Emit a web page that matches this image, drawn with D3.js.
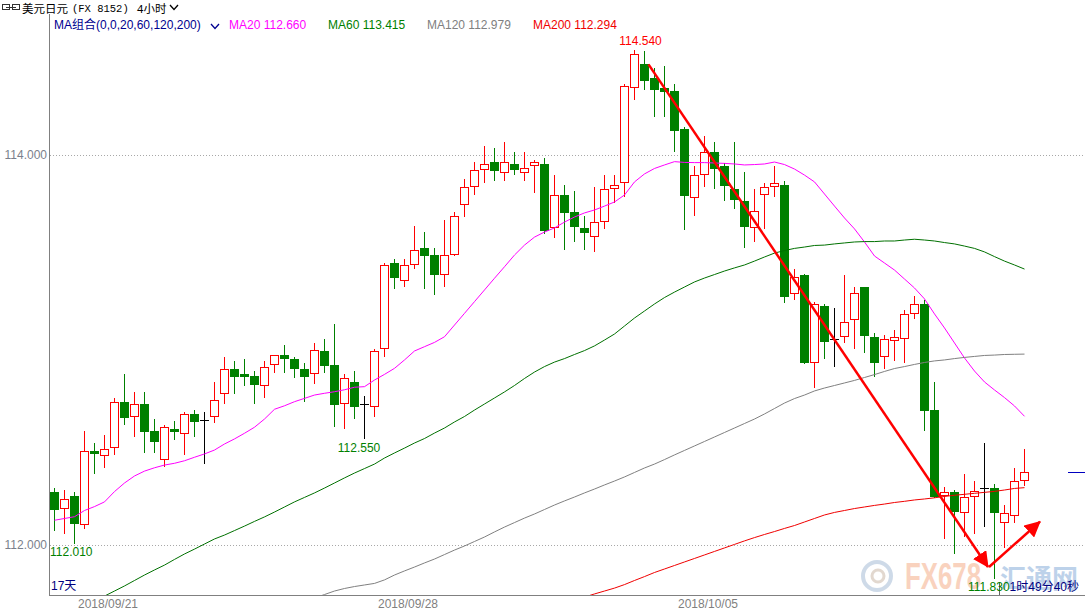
<!DOCTYPE html>
<html>
<head>
<meta charset="utf-8">
<script src="https://d3js.org/d3.v7.min.js"></script>
<style>
body { margin: 0; background: #fff; }
svg { display: block; font-family: "Liberation Sans", "Noto Sans CJK SC", sans-serif; }
</style>
</head>
<body>
<svg width="1085" height="610"></svg>
<script>
// 4h candles, USD/JPY
let opens = [112.272,112.183,112.251,112.101,112.482,112.455,112.499,112.733,112.655,112.723,
    112.585,112.434,112.595,112.571,112.672,112.643,112.655,112.773,112.901,112.877,
    112.867,112.814,112.923,112.974,112.954,112.901,112.875,112.995,112.923,112.722,
    112.836,112.722,112.709,113.004,113.446,113.352,113.434,113.522,113.487,113.383,
    113.486,113.742,113.834,113.922,113.963,113.906,113.952,113.906,113.942,113.952,
    113.624,113.793,113.706,113.624,113.581,113.655,113.824,113.856,114.342,114.465,
    114.395,114.344,114.328,114.133,113.781,113.896,114.014,113.944,113.826,113.764,
    113.624,113.793,113.834,113.845,113.286,113.385,112.932,113.226,113.055,113.065,
    113.152,113.322,113.067,112.963,113.045,113.055,113.183,113.236,112.692,112.251,
    112.270,112.163,112.245,112.291,112.291,112.111,112.150,112.330];
let highs = [112.292,112.282,112.272,112.585,112.523,112.564,112.752,112.877,112.785,112.785,
    112.646,112.614,112.636,112.682,112.692,112.682,112.836,112.964,112.944,112.954,
    112.892,112.944,112.973,113.026,112.964,112.932,113.034,113.056,113.133,112.877,
    112.892,112.764,113.005,113.446,113.467,113.467,113.636,113.605,113.522,113.667,
    113.706,113.875,113.963,114.046,114.036,114.067,114.015,114.015,113.973,113.983,
    113.896,113.846,113.817,113.687,113.834,113.897,113.897,114.364,114.540,114.535,
    114.445,114.455,114.364,114.144,113.942,114.097,114.067,113.957,114.067,113.911,
    113.826,113.856,113.942,113.865,113.414,113.390,113.248,113.236,113.217,113.385,
    113.325,113.322,113.087,113.077,113.103,113.205,113.277,113.256,112.837,112.299,
    112.282,112.364,112.330,112.522,112.313,112.205,112.393,112.492];
let lows = [112.077,112.060,112.010,112.089,112.371,112.402,112.468,112.622,112.561,112.478,
    112.478,112.405,112.542,112.468,112.561,112.422,112.631,112.730,112.781,112.821,
    112.730,112.761,112.889,112.889,112.863,112.740,112.832,112.889,112.612,112.602,
    112.653,112.550,112.662,112.971,113.316,113.330,113.422,113.320,113.289,113.330,
    113.486,113.689,113.802,113.863,113.873,113.873,113.904,113.873,113.812,113.602,
    113.581,113.519,113.561,113.519,113.509,113.624,113.761,113.791,114.286,114.340,
    114.202,114.202,114.022,113.622,113.692,113.843,113.832,113.769,113.730,113.530,
    113.561,113.624,113.791,113.245,113.263,112.932,112.812,112.957,112.919,113.043,
    113.012,112.991,112.868,112.909,112.949,112.940,113.163,112.590,112.245,112.037,
    111.961,112.048,112.060,112.099,111.830,111.991,112.119,112.308];
let closes = [112.179,112.234,112.109,112.481,112.468,112.492,112.733,112.653,112.722,112.581,
    112.530,112.604,112.581,112.670,112.632,112.643,112.742,112.901,112.863,112.863,
    112.822,112.913,112.973,112.952,112.901,112.863,112.998,112.919,112.719,112.855,
    112.709,112.722,112.993,113.434,113.371,113.434,113.511,113.484,113.383,113.486,
    113.686,113.834,113.922,113.952,113.916,113.963,113.922,113.932,113.963,113.612,
    113.793,113.704,113.632,113.602,113.655,113.824,113.845,114.354,114.516,114.381,
    114.335,114.325,114.125,113.790,113.896,114.014,113.930,113.843,113.769,113.632,
    113.711,113.834,113.855,113.273,113.373,112.932,113.234,113.043,113.055,113.142,
    113.291,113.073,112.932,113.055,113.065,113.183,113.234,112.689,112.245,112.270,
    112.171,112.245,112.278,112.291,112.163,112.163,112.330,112.373];

// moving averages (null where the line is not drawn)
let ma20 = [112.127,112.136,112.145,112.177,112.197,112.221,112.274,112.318,112.354,112.379,
    112.396,112.410,112.419,112.432,112.450,112.467,112.487,112.518,112.544,112.573,
    112.604,112.646,112.696,112.714,112.735,112.752,112.769,112.778,112.786,112.796,
    112.809,112.812,112.846,112.875,112.906,112.949,112.995,113.017,113.039,113.068,
    113.128,113.188,113.248,113.308,113.368,113.427,113.487,113.538,113.579,113.605,
    113.626,113.656,113.682,113.703,113.718,113.738,113.759,113.795,113.862,113.903,
    113.931,113.949,113.966,113.962,113.961,113.961,113.959,113.957,113.954,113.949,
    113.951,113.954,113.964,113.951,113.928,113.897,113.862,113.800,113.738,113.677,
    113.621,113.554,113.482,113.446,113.410,113.364,113.318,113.262,113.185,113.113,
    113.036,112.959,112.892,112.836,112.795,112.756,112.713,112.660];
let ma60 = [null,null,null,null,null,
    111.738,111.764,111.790,111.818,111.846,111.872,111.897,111.926,111.954,111.979,
    112.005,112.031,112.051,112.074,112.097,112.121,112.144,112.169,112.195,112.221,
    112.244,112.267,112.292,112.318,112.344,112.369,112.392,112.415,112.446,112.472,
    112.497,112.523,112.546,112.574,112.600,112.631,112.659,112.692,112.723,112.754,
    112.785,112.818,112.854,112.887,112.915,112.938,112.956,112.977,112.997,113.021,
    113.051,113.082,113.123,113.164,113.200,113.236,113.269,113.297,113.323,113.349,
    113.369,113.387,113.405,113.421,113.436,113.456,113.477,113.497,113.510,113.521,
    113.528,113.536,113.538,113.544,113.549,113.554,113.556,113.556,113.559,113.559,
    113.564,113.568,113.564,113.559,113.551,113.544,113.533,113.521,113.503,113.479,
    113.456,113.436,113.415];
let ma120 = [null,null,null,null,null,null,null,null,null,null,
    null,null,null,null,null,null,null,null,null,null,
    null,null,null,null,null,null,
    111.728,111.746,111.764,111.777,
    111.787,111.795,111.803,111.821,111.846,111.867,111.887,111.908,111.928,111.951,
    111.974,111.995,112.018,112.041,112.067,112.092,112.115,112.138,112.159,112.182,
    112.205,112.226,112.246,112.267,112.287,112.308,112.328,112.349,112.372,112.395,
    112.415,112.438,112.462,112.485,112.508,112.531,112.554,112.577,112.600,112.623,
    112.646,112.672,112.700,112.728,112.751,112.769,112.790,112.805,112.818,112.831,
    112.844,112.859,112.874,112.890,112.905,112.915,112.926,112.936,112.944,112.949,
    112.956,112.962,112.967,112.972,112.974,112.977,112.978,112.979];
let ma200 = [null,null,null,null,null,null,null,null,null,null,
    null,null,null,null,null,null,null,null,null,null,
    null,null,null,null,null,null,null,null,null,null,
    null,null,null,null,null,null,null,null,null,null,
    null,null,null,null,null,null,null,null,null,null,
    null,null,null,
    111.733,111.749,111.764,111.779,111.797,111.818,111.838,111.859,111.877,111.895,
    111.913,111.931,111.949,111.967,111.985,112.003,112.021,112.038,112.054,112.069,
    112.085,112.100,112.118,112.136,112.154,112.167,112.177,112.187,112.195,112.203,
    112.210,112.218,112.224,112.231,112.236,112.242,112.249,112.255,112.260,112.265,
    112.270,112.275,112.282,112.290,112.294];

let yTicks = [112, 114];
let dateLabels = ["2018/09/21", "2018/09/28", "2018/10/05"];
let dateIndex = [5, 35, 65];

// hand drawn arrows: [candle index, price]
let arrowDown = [[59.4, 114.465], [93.35, 111.887]];
let arrowUp = [[93.45, 111.887], [98.55, 112.12]];

let svg = d3.select("svg");
let plot = { left: 49, top: 14, right: 1085, bottom: 595 };

let x = d3.scaleLinear().domain([0, closes.length - 1]).range([54.5, 1024.5]);
let y = d3.scaleLinear().domain([112, 114]).range([545, 155]);

let red = "#ff0000", green = "#008000";

svg.append("rect").attr("width", 1085).attr("height", 610).attr("fill", "#fff");

let defs = svg.append("defs");
defs.append("clipPath").attr("id", "plotClip").append("rect")
    .attr("x", plot.left + 1).attr("y", plot.top)
    .attr("width", plot.right - plot.left - 1).attr("height", plot.bottom - plot.top);
defs.append("marker")
    .attr("id", "head")
    .attr("viewBox", "0 0 16 16")
    .attr("refX", 15).attr("refY", 8)
    .attr("markerWidth", 16).attr("markerHeight", 16)
    .attr("markerUnits", "userSpaceOnUse")
    .attr("orient", "auto")
    .append("path")
    .attr("d", "M0,0 L16,8 L0,16 Z")
    .attr("fill", red);

// watermark
let wm = svg.append("g").attr("opacity", 0.5);
wm.append("circle").attr("cx", 877).attr("cy", 576).attr("r", 14)
    .attr("fill", "none").attr("stroke", "#9fb7d3").attr("stroke-width", 4);
wm.append("circle").attr("cx", 878).attr("cy", 576).attr("r", 6)
    .attr("fill", "none").attr("stroke", "#c7b3a0").attr("stroke-width", 3);
wm.append("text").attr("x", 905).attr("y", 589)
    .attr("textLength", 76).attr("lengthAdjust", "spacingAndGlyphs")
    .style("font-size", "37px").style("font-weight", "bold")
    .attr("fill", "#f4a77f").text("FX678");
wm.append("text").attr("x", 1000).attr("y", 588)
    .style("font-family", "Noto Sans CJK SC").style("font-size", "26px").style("font-weight", "bold")
    .attr("fill", "#7ea6d6").text("汇通网");

// grid
svg.selectAll(".grid")
    .data(yTicks)
    .enter().append("line")
    .classed("grid", true)
    .attr("x1", plot.left + 1).attr("x2", plot.right)
    .attr("y1", d => Math.round(y(d)) + 0.5).attr("y2", d => Math.round(y(d)) + 0.5)
    .attr("stroke", "#a8a8a8").attr("stroke-dasharray", "1,2");

svg.selectAll(".ylab")
    .data(yTicks)
    .enter().append("text")
    .classed("ylab", true)
    .attr("x", 47).attr("y", d => Math.round(y(d)) + 4)
    .attr("text-anchor", "end")
    .style("font-size", "12px")
    .attr("fill", "#7a7f8c")
    .text(d => d.toFixed(3));

// axis frame
svg.append("line").attr("x1", plot.left + 0.5).attr("x2", plot.left + 0.5)
    .attr("y1", plot.top).attr("y2", plot.bottom + 1).attr("stroke", "#808080");
svg.append("line").attr("x1", plot.left).attr("x2", plot.right)
    .attr("y1", plot.bottom + 0.5).attr("y2", plot.bottom + 0.5).attr("stroke", "#808080");

svg.selectAll(".xlab")
    .data(dateLabels)
    .enter().append("text")
    .classed("xlab", true)
    .attr("x", (d, i) => x(dateIndex[i]) + 3.5)
    .attr("y", 608)
    .attr("text-anchor", "middle")
    .style("font-size", "12px")
    .attr("fill", "#7f7f7f")
    .text(d => d);

// candles
let candles = closes.map((c, i) => ({ i: i, o: opens[i], h: highs[i], l: lows[i], c: c }));
let up = candles.filter(d => d.c > d.o);
let down = candles.filter(d => d.c < d.o);
let flat = candles.filter(d => d.c === d.o);

let g = svg.append("g").attr("clip-path", "url(#plotClip)");
let cg = g.append("g").attr("shape-rendering", "crispEdges");

// wicks of down / flat candles run straight through
cg.selectAll(".wick")
    .data(down.concat(flat))
    .enter().append("line")
    .classed("wick", true)
    .attr("x1", d => x(d.i)).attr("x2", d => x(d.i))
    .attr("y1", d => Math.round(y(d.h))).attr("y2", d => Math.round(y(d.l)) + 1)
    .attr("stroke", d => d.c < d.o ? green : "#000");

cg.selectAll(".downbody")
    .data(down)
    .enter().append("rect")
    .classed("downbody", true)
    .attr("x", d => x(d.i) - 4.5)
    .attr("y", d => Math.round(y(d.o)))
    .attr("width", 9)
    .attr("height", d => Math.max(1, Math.round(y(d.c)) - Math.round(y(d.o))))
    .attr("fill", green);

cg.selectAll(".flatbody")
    .data(flat)
    .enter().append("line")
    .classed("flatbody", true)
    .attr("x1", d => x(d.i) - 4.5).attr("x2", d => x(d.i) + 4.5)
    .attr("y1", d => Math.round(y(d.o)) + 0.5).attr("y2", d => Math.round(y(d.o)) + 0.5)
    .attr("stroke", "#000");

// up candles: hollow red box, wick stops at the box
cg.selectAll(".upwickh")
    .data(up)
    .enter().append("line")
    .classed("upwickh", true)
    .attr("x1", d => x(d.i)).attr("x2", d => x(d.i))
    .attr("y1", d => Math.round(y(d.h))).attr("y2", d => Math.round(y(d.c)))
    .attr("stroke", red);
cg.selectAll(".upwickl")
    .data(up)
    .enter().append("line")
    .classed("upwickl", true)
    .attr("x1", d => x(d.i)).attr("x2", d => x(d.i))
    .attr("y1", d => Math.round(y(d.o))).attr("y2", d => Math.round(y(d.l)) + 1)
    .attr("stroke", red);
cg.selectAll(".upbody")
    .data(up)
    .enter().append("rect")
    .classed("upbody", true)
    .attr("x", d => x(d.i) - 4)
    .attr("y", d => Math.round(y(d.c)) + 0.5)
    .attr("width", 8)
    .attr("height", d => Math.max(1, Math.round(y(d.o)) - Math.round(y(d.c)) - 1))
    .attr("fill", "#fff")
    .attr("stroke", red);

// moving averages
let maLine = d3.line()
    .defined(v => v != null)
    .x((v, i) => x(i))
    .y(v => y(v));

let maSeries = [
    { name: "MA20", values: ma20, color: "#ff00ff" },
    { name: "MA60", values: ma60, color: "#007000" },
    { name: "MA120", values: ma120, color: "#808080" },
    { name: "MA200", values: ma200, color: "#f00000" }
];

g.selectAll(".ma")
    .data(maSeries)
    .enter().append("path")
    .classed("ma", true)
    .attr("d", d => maLine(d.values))
    .attr("fill", "none")
    .attr("stroke", d => d.color)
    .attr("stroke-width", 1);

// high / low labels
let hiIdx = d3.maxIndex(highs);
let loIdx = d3.minIndex(lows);
svg.append("text")
    .attr("x", x(hiIdx) + 6).attr("y", y(highs[hiIdx]) - 5)
    .attr("text-anchor", "middle")
    .style("font-size", "12px").attr("fill", red)
    .text(highs[hiIdx].toFixed(3));
svg.append("text")
    .attr("x", x(31) - 5.5).attr("y", y(lows[31]) + 14)
    .attr("text-anchor", "middle")
    .style("font-size", "12px").attr("fill", green)
    .text(lows[31].toFixed(3));
svg.append("text")
    .attr("x", 50).attr("y", y(lows[2]) + 13)
    .style("font-size", "12px").attr("fill", green)
    .text(lows[2].toFixed(3));

// last price marker
svg.append("line")
    .attr("x1", 1068).attr("x2", plot.right)
    .attr("y1", Math.round(y(closes[closes.length - 1])) + 0.5)
    .attr("y2", Math.round(y(closes[closes.length - 1])) + 0.5)
    .attr("stroke", "#0000c0");

svg.append("line")
    .attr("x1", x(loIdx) + 5).attr("x2", x(loIdx) + 5)
    .attr("y1", 582).attr("y2", plot.bottom)
    .attr("stroke", "#606060");

let lowText = svg.append("text").attr("x", 968).attr("y", 591).style("font-size", "12px");
lowText.append("tspan").attr("fill", green).text(lows[loIdx].toFixed(3));
lowText.append("tspan").attr("fill", "#000080").text("1时49分40秒");

svg.append("text")
    .attr("x", 51).attr("y", 590)
    .style("font-size", "12px").attr("fill", "#000080")
    .text("17天");

// arrows
let arrowLine = d3.line().x(d => x(d[0])).y(d => y(d[1]));
svg.selectAll(".arrow")
    .data([arrowDown, arrowUp])
    .enter().append("path")
    .classed("arrow", true)
    .attr("d", arrowLine)
    .attr("fill", "none")
    .attr("stroke", red)
    .attr("stroke-width", 2.5)
    .attr("marker-end", "url(#head)");

// header
let head = svg.append("g");
head.append("rect").attr("x", 2.5).attr("y", 4.5).attr("width", 7).attr("height", 5)
    .attr("fill", "none").attr("stroke", "#333");
head.append("rect").attr("x", 12.5).attr("y", 4.5).attr("width", 7).attr("height", 5)
    .attr("fill", "none").attr("stroke", "#333");
head.append("line").attr("x1", 6).attr("x2", 16).attr("y1", 7.5).attr("y2", 7.5).attr("stroke", "#333");
head.append("text").attr("x", 22).attr("y", 13)
    .style("font-size", "11.5px").style("font-family", "Noto Sans CJK SC").attr("fill", "#000")
    .text("美元日元");
head.append("text").attr("x", 72).attr("y", 11.5)
    .style("font-size", "10.5px").style("font-family", "Liberation Mono").attr("fill", "#000")
    .text("(FX 8152)");
head.append("text").attr("x", 137).attr("y", 12.5)
    .style("font-size", "11.5px").attr("fill", "#000")
    .text("4小时");
head.append("path").attr("d", "M170,5 L174,9.5 L178,5")
    .attr("fill", "none").attr("stroke", "#000").attr("stroke-width", 1.3);

let legend = svg.append("g").style("font-size", "12px");
legend.append("text").attr("x", 54).attr("y", 29).attr("fill", "#000090")
    .text("MA组合(0,0,20,60,120,200)");
legend.append("path").attr("d", "M211,24 L215,28.5 L219,24")
    .attr("fill", "none").attr("stroke", "#000090").attr("stroke-width", 1.3);
let legendX = [229, 328, 427, 533];
legend.selectAll(".malab")
    .data(maSeries)
    .enter().append("text")
    .classed("malab", true)
    .attr("x", (d, i) => legendX[i]).attr("y", 29)
    .attr("fill", d => d.name === "MA60" ? "#008000" : d.color)
    .text(d => d.name + " " + d.values[d.values.length - 1].toFixed(3));
</script>
</body>
</html>
